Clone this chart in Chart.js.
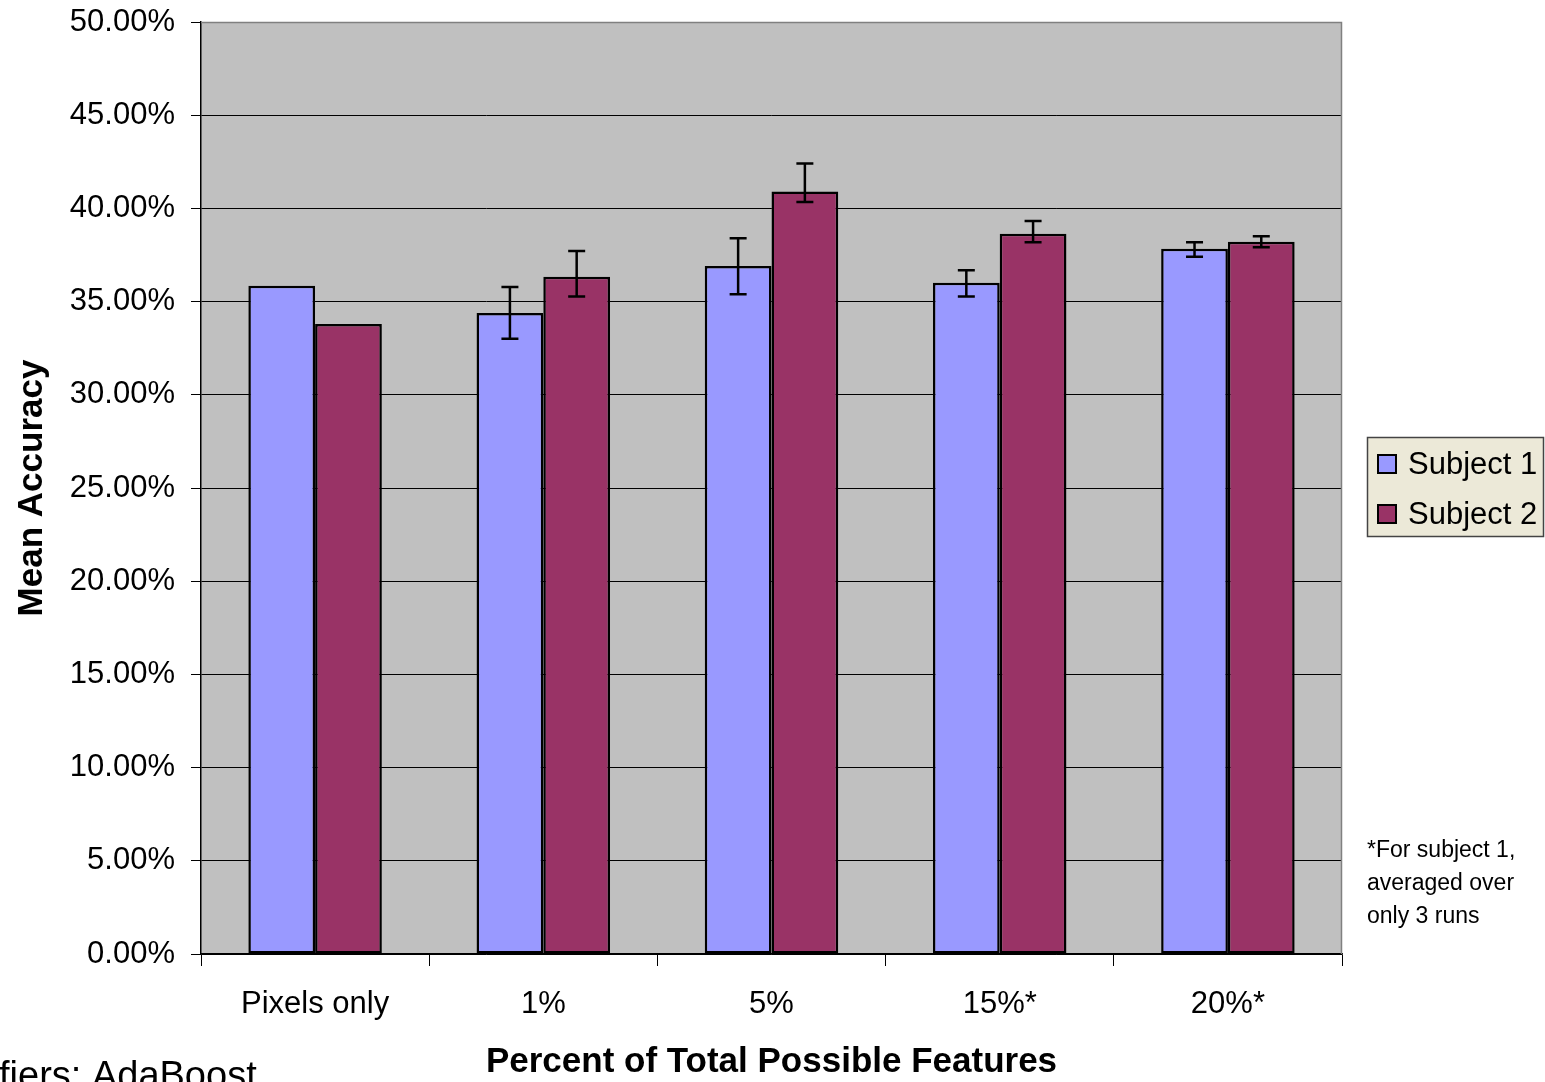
<!DOCTYPE html>
<html>
<head>
<meta charset="utf-8">
<script src="https://cdn.jsdelivr.net/npm/chart.js@4/dist/chart.umd.min.js"></script>
<style>
  body { margin: 0; background: #fff; }
  #wrap { width: 1545px; height: 1082px; }
</style>
</head>
<body>
<div id="wrap"><canvas id="accuracy-chart" width="1545" height="1082"></canvas></div>
<script>
// categories and values (percent)
const categories = ["Pixels only", "1%", "5%", "15%*", "20%*"];
const subject1 = [35.85, 34.39, 36.91, 36.01, 37.83];
const subject2 = [33.80, 36.33, 40.91, 38.64, 38.21];
// error bar ends (no bars for pixels only)
const subject1ErrHigh = [null, 35.78, 38.40, 36.68, 38.19];
const subject1ErrLow = [null, 33.01, 35.40, 35.28, 37.40];
const subject2ErrHigh = [null, 37.71, 42.41, 39.32, 38.51];
const subject2ErrLow = [null, 35.28, 40.35, 38.18, 37.91];
const noteLines = ["*For subject 1,", "averaged over", "only 3 runs"];

const FONT = "'Liberation Sans', Arial, sans-serif";

// grey plot background plus grey top/right frame
const plotBackground = {
    id: "plotBackground",
    beforeDraw(chart) {
        const { ctx, chartArea: a } = chart;
        ctx.save();
        ctx.fillStyle = "#C0C0C0";
        ctx.fillRect(a.left, a.top, a.right - a.left, a.bottom - a.top);
        ctx.restore();
    },
    afterDraw(chart) {
        const { ctx, chartArea: a } = chart;
        ctx.save();
        ctx.strokeStyle = "#808080";
        ctx.lineWidth = 1.5;
        ctx.beginPath();
        ctx.moveTo(a.left, a.top + 0.5);
        ctx.lineTo(a.right - 0.5, a.top + 0.5);
        ctx.lineTo(a.right - 0.5, a.bottom);
        ctx.stroke();
        ctx.restore();
    }
};

// error bars drawn at each bar's x through the y scale
const errorBars = {
    id: "errorBars",
    afterDatasetsDraw(chart) {
        const { ctx } = chart;
        const y = chart.scales.y;
        const ends = [[subject1ErrLow, subject1ErrHigh], [subject2ErrLow, subject2ErrHigh]];
        ctx.save();
        ctx.strokeStyle = "#000";
        ctx.lineWidth = 2.5;
        ends.forEach(([lows, highs], di) => {
            chart.getDatasetMeta(di).data.forEach((bar, i) => {
                if (lows[i] == null) return;
                const yl = y.getPixelForValue(lows[i]);
                const yh = y.getPixelForValue(highs[i]);
                ctx.beginPath();
                ctx.moveTo(bar.x, yl); ctx.lineTo(bar.x, yh);
                ctx.moveTo(bar.x - 8.5, yl); ctx.lineTo(bar.x + 8.5, yl);
                ctx.moveTo(bar.x - 8.5, yh); ctx.lineTo(bar.x + 8.5, yh);
                ctx.stroke();
            });
        });
        ctx.restore();
    }
};

// boxed legend, side note and clipped caption
const extras = {
    id: "extras",
    afterDraw(chart) {
        const { ctx } = chart;
        ctx.save();
        // legend box
        ctx.fillStyle = "#ECE9D8";
        ctx.fillRect(1367, 437, 177, 100);
        ctx.strokeStyle = "#444";
        ctx.lineWidth = 1.5;
        ctx.strokeRect(1367.5, 437.5, 176, 99);
        ctx.font = "31px " + FONT;
        ctx.textBaseline = "middle";
        chart.data.datasets.forEach((ds, i) => {
            const cy = 464 + i * 50;
            ctx.fillStyle = ds.backgroundColor;
            ctx.fillRect(1378, cy - 9, 18, 18);
            ctx.strokeStyle = "#000";
            ctx.lineWidth = 2;
            ctx.strokeRect(1378, cy - 9, 18, 18);
            ctx.fillStyle = "#000";
            ctx.fillText(ds.label, 1408, cy + 1);
        });
        // note
        ctx.font = "23px " + FONT;
        noteLines.forEach((t, i) => ctx.fillText(t, 1367, 851 + i * 33));
        // caption cut off at the left edge
        ctx.font = "38px " + FONT;
        ctx.textBaseline = "alphabetic";
        const lead = ctx.measureText("Classi").width;
        ctx.fillText("Classifiers: AdaBoost", -lead - 1, 1088);
        ctx.restore();
    }
};

const ctx = document.getElementById("accuracy-chart").getContext("2d");
new Chart(ctx, {
    type: "bar",
    data: {
        labels: categories,
        datasets: [
            {
                label: "Subject 1",
                data: subject1,
                backgroundColor: "#9999FF",
                borderColor: "#000",
                borderWidth: 2.5,
                borderSkipped: false
            },
            {
                label: "Subject 2",
                data: subject2,
                backgroundColor: "#993366",
                borderColor: "#000",
                borderWidth: 2.5,
                borderSkipped: false
            }
        ]
    },
    options: {
        responsive: false,
        animation: false,
        devicePixelRatio: 1,
        layout: { padding: { top: 22, right: 203, left: 0, bottom: 0 } },
        plugins: {
            legend: { display: false },
            tooltip: { enabled: false }
        },
        datasets: {
            bar: { categoryPercentage: 0.585, barPercentage: 1 }
        },
        scales: {
            x: {
                afterFit: (s) => { s.height = 128; s.paddingLeft = 0; s.paddingRight = 0; },
                grid: {
                    offset: true,
                    drawOnChartArea: false,
                    tickLength: 12,
                    tickColor: "#000",
                    tickWidth: 1
                },
                border: { color: "#000", width: 1.5 },
                ticks: {
                    color: "#000",
                    padding: 20,
                    maxRotation: 0,
                    font: { family: FONT, size: 31 }
                },
                title: {
                    display: true,
                    text: "Percent of Total Possible Features",
                    color: "#000",
                    font: { family: FONT, size: 35, weight: "bold", lineHeight: 1 },
                    padding: { top: 0, bottom: 2 }
                }
            },
            y: {
                min: 0,
                max: 50,
                afterFit: (s) => { s.width = 201; s.paddingTop = 0; s.paddingBottom = 0; },
                grid: {
                    color: (c) => (c.tick && c.tick.value === 50 ? "rgba(0,0,0,0)" : "#000"),
                    lineWidth: 1,
                    tickLength: 10,
                    tickColor: "#000"
                },
                border: { color: "#000", width: 1.5 },
                ticks: {
                    stepSize: 5,
                    color: "#000",
                    padding: 16,
                    font: { family: FONT, size: 31 },
                    callback: (v) => v.toFixed(2) + "%"
                },
                title: {
                    display: true,
                    text: "Mean Accuracy",
                    color: "#000",
                    font: { family: FONT, size: 35, weight: "bold", lineHeight: 1 },
                    padding: { top: 15, bottom: 0 }
                }
            }
        }
    },
    plugins: [plotBackground, errorBars, extras]
});
</script>
</body>
</html>
